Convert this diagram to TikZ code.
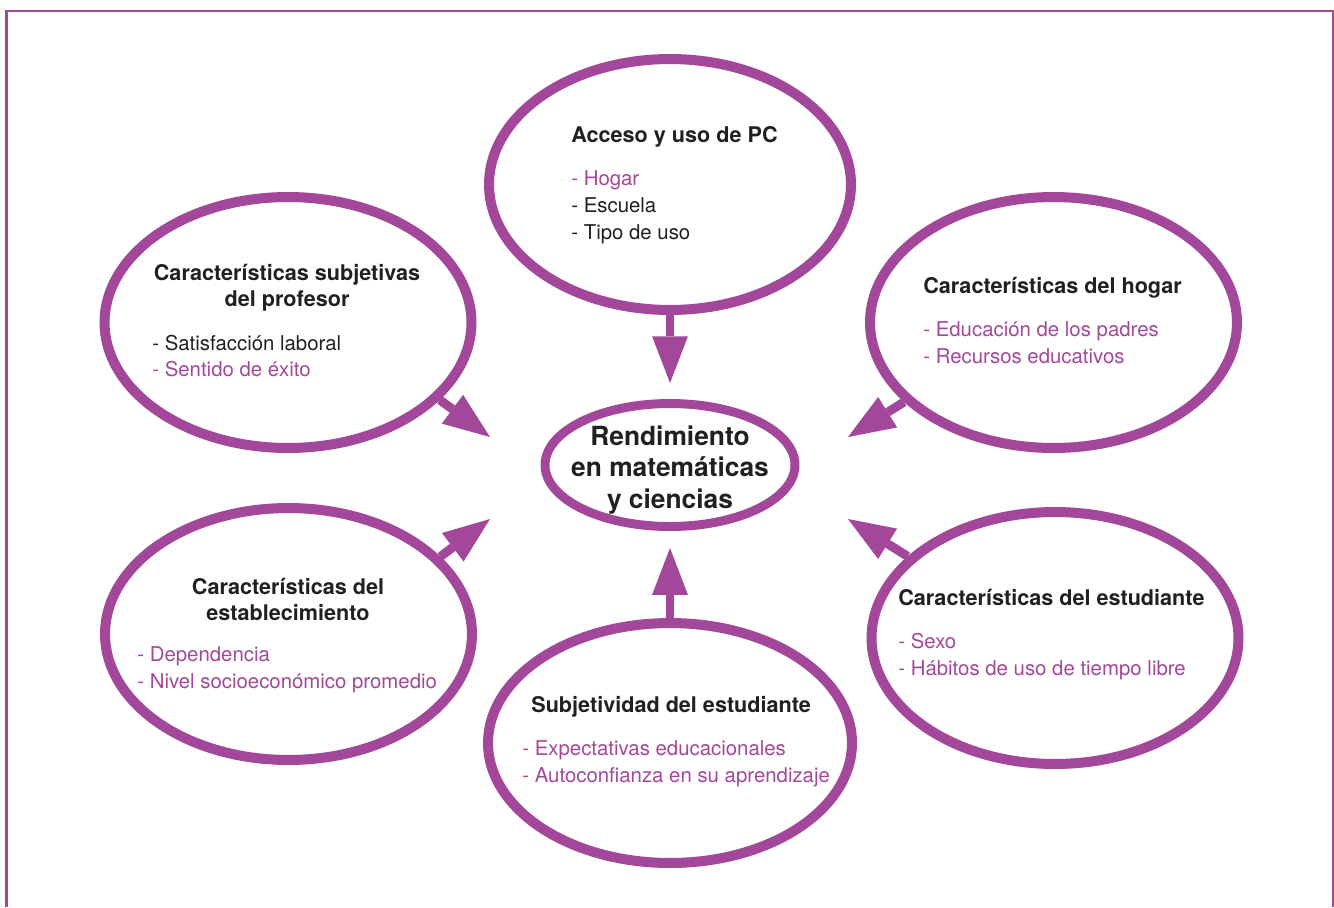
\documentclass[tikz,border=0pt]{standalone}
\usepackage{fontspec}
\setmainfont{TeX Gyre Heros}
\usetikzlibrary{shapes.geometric,arrows.meta}
\definecolor{ipurple}{RGB}{163,71,154}
\definecolor{ink}{RGB}{35,31,32}
\tikzset{
  bubble/.style={ellipse, draw=ipurple, line width=5.7pt, inner sep=0pt,
                 minimum width=7.34cm, minimum height=5.02cm},
  head/.style={font=\fontsize{12.3}{14.8}\bfseries\selectfont, text=ink, inner sep=0pt},
  item/.style={font=\fontsize{11.6}{15.3}\selectfont, text=ink, inner sep=0pt, anchor=base west},
  hl/.style={text=ipurple},
  flow/.style={draw=ipurple, line width=5.1pt,
               -{Triangle[length=26.6pt,width=20.4pt,line width=0pt]}}
}
\begin{document}
\begin{tikzpicture}[x=0.02cm, y=-0.02cm]
  \useasboundingbox (0,0) rectangle (1334,907);
  % frame
  \draw[ipurple, line width=1.7pt] (6.5,907) -- (6.5,11) -- (1334,11);
  \draw[ipurple, line width=0.9pt] (1333,11) -- (1333,907);

  % bubbles
  \node[bubble, minimum width=7.24cm] (pc) at (670,184.5) {};
  \node[bubble] (prof) at (288,322.5) {};
  \node[bubble] (hogar) at (1053.5,322.5) {};
  \node[bubble, minimum height=5.04cm] (estab) at (288.5,634) {};
  \node[bubble, minimum height=5.04cm] (est) at (1055,638) {};
  \node[bubble, minimum width=7.28cm, minimum height=4.8cm] (subj) at (670,743) {};
  \node[bubble, line width=5.1pt, minimum width=5cm, minimum height=2.46cm] (rend) at (670,465) {};

  % center text
  \node[head, align=center, font=\fontsize{15}{18.1}\bfseries\selectfont] (rendtxt) at (670,470)
    {Rendimiento\\en matemáticas\\y ciencias};

  % acceso y uso de PC
  \node[head, anchor=base west] (pchead) at (571,142) {Acceso y uso de PC};
  \node[item, hl] (pc1) at (571,185) {- Hogar};
  \node[item] (pc2) at (571,212) {- Escuela};
  \node[item] (pc3) at (571,239) {- Tipo de uso};

  % profesor
  \node[head, align=center] (profhead) at (287,288) {Características subjetivas\\del profesor};
  \node[item] (prof1) at (152,350) {- Satisfacción laboral};
  \node[item, hl] (prof2) at (152,376) {- Sentido de éxito};

  % hogar
  \node[head, anchor=base west] (hogarhead) at (923,293) {Características del hogar};
  \node[item, hl] (hogar1) at (923,336) {- Educación de los padres};
  \node[item, hl] (hogar2) at (923,363) {- Recursos educativos};

  % establecimiento
  \node[head, align=center] (estabhead) at (288,599) {Características del\\establecimiento};
  \node[item, hl] (estab1) at (137,661) {- Dependencia};
  \node[item, hl] (estab2) at (137,688) {- Nivel socioeconómico promedio};

  % subjetividad
  \node[head, anchor=base west] (subjhead) at (531,712) {Subjetividad del estudiante};
  \node[item, hl] (subj1) at (522,755) {- Expectativas educacionales};
  \node[item, hl] (subj2) at (522,782) {- Autoconfianza en su aprendizaje};

  % estudiante
  \node[head, anchor=base west] (esthead) at (898,605) {Características del estudiante};
  \node[item, hl] (est1) at (898,648) {- Sexo};
  \node[item, hl] (est2) at (898,675) {- Hábitos de uso de tiempo libre};

  % arrows
  \coordinate (pctip) at (670,383);
  \coordinate (proftip) at (490,437);
  \coordinate (hogartip) at (848,437);
  \coordinate (estabtip) at (490,519);
  \coordinate (esttip) at (848,519);
  \coordinate (subjtip) at (670,548);
  \draw[flow] (pc.south) -- (pctip);
  \draw[flow] (prof.-27) -- (proftip);
  \draw[flow] (hogar.-152) -- (hogartip);
  \draw[flow] (estab.27) -- (estabtip);
  \draw[flow] (est.151) -- (esttip);
  \draw[flow] (subj.north) -- (subjtip);
\end{tikzpicture}
\end{document}
